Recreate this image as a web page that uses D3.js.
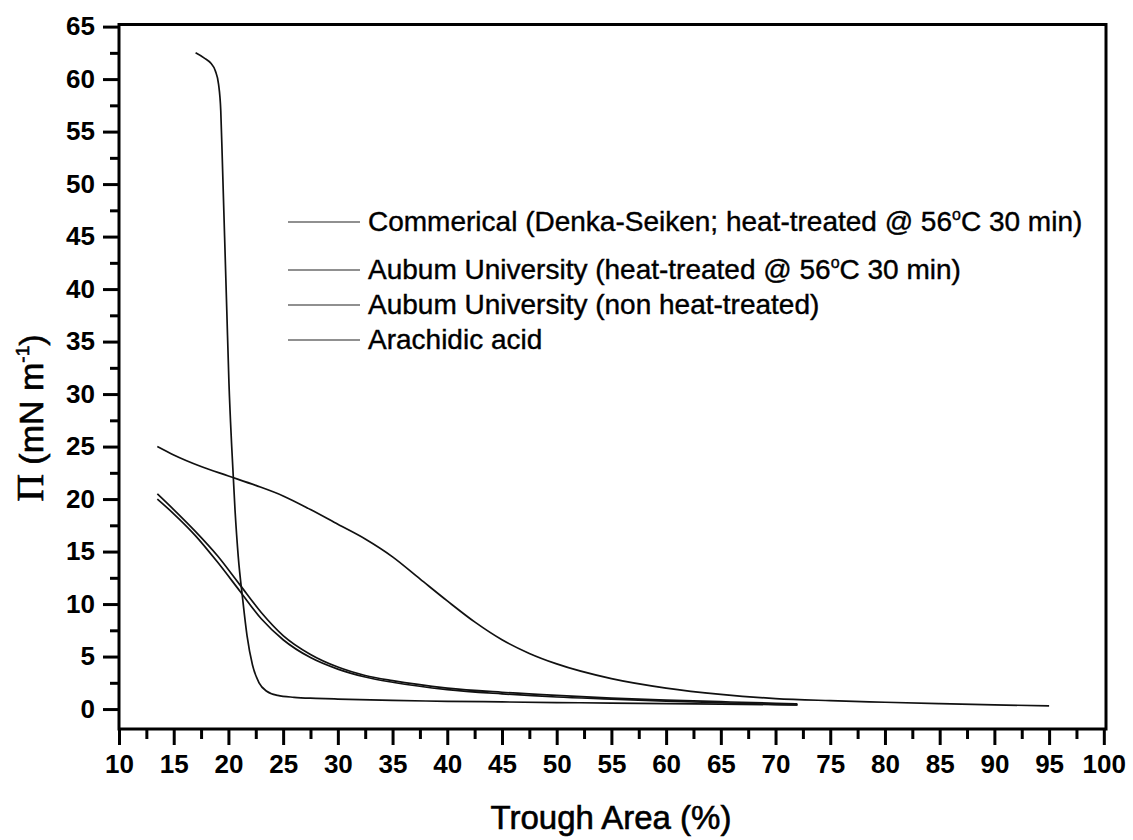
<!DOCTYPE html>
<html>
<head>
<meta charset="utf-8">
<script src="https://cdn.jsdelivr.net/npm/d3@7"></script>
<style>
  body { margin: 0; background: #fff; }
  svg { display: block; font-family: 'Liberation Sans', Arial, sans-serif; }
</style>
</head>
<body>
<div class="container"></div>
<script>
// data: [trough area %, pressure mN/m]
let commercial = [
  [17.0, 62.5], [17.8, 62.0], [18.4, 61.5], [18.8, 60.8], [19.1, 59.5], [19.3, 57], [19.45, 52],
  [19.65, 45], [19.85, 38], [20.05, 31], [20.3, 25], [20.6, 19], [20.9, 14.5],
  [21.3, 10.5], [21.7, 7], [22.2, 4.2], [22.8, 2.5], [23.5, 1.7], [24.5, 1.3],
  [26, 1.12], [28, 1.02], [30, 0.95], [35, 0.82], [40, 0.74], [45, 0.68],
  [50, 0.62], [55, 0.57], [60, 0.52], [65, 0.47], [70, 0.42], [72, 0.4]
];
let auburnHeat = [
  [13.5, 20.5], [15, 19.0], [17, 16.9], [19, 14.6], [21, 11.9], [23, 9.2],
  [25, 7.0], [27.5, 5.2], [30, 4.0], [32.5, 3.2], [35, 2.7], [40, 2.0],
  [45, 1.6], [50, 1.3], [55, 1.05], [60, 0.85], [65, 0.7], [70, 0.55], [72, 0.5]
];
let auburnNonHeat = [
  [13.5, 20.0], [15, 18.6], [17, 16.5], [19, 14.0], [21, 11.3], [23, 8.6],
  [25, 6.6], [27.5, 4.9], [30, 3.8], [32.5, 3.05], [35, 2.55], [40, 1.85],
  [45, 1.45], [50, 1.15], [55, 0.95], [60, 0.75], [65, 0.6], [70, 0.45], [72, 0.4]
];
let arachidic = [
  [13.5, 25.0], [15, 24.2], [17.5, 23.1], [20, 22.2], [22.5, 21.3], [25, 20.3],
  [27.5, 19.0], [30, 17.6], [32.5, 16.2], [35, 14.5], [37.5, 12.4], [40, 10.3],
  [42.5, 8.3], [45, 6.6], [47.5, 5.3], [50, 4.3], [55, 2.9], [60, 2.0],
  [65, 1.4], [70, 1.0], [75, 0.8], [80, 0.65], [85, 0.52], [90, 0.4], [95, 0.3]
];

let seriesNames = [
  'Commerical (Denka-Seiken; heat-treated @ 56',
  'Aubum University (heat-treated @ 56',
  'Aubum University (non heat-treated)',
  'Arachidic acid'
];
let seriesTails = ['C 30 min)', 'C 30 min)', null, null];

let xTicks = d3.range(10, 101, 5);
let yTicks = d3.range(0, 66, 5);
let xMinor = d3.range(12.5, 100, 5);
let yMinor = d3.range(2.5, 65, 5);

let width = 1133;
let height = 840;

let svg = d3
  .select('.container')
  .append('svg')
  .attr('width', width)
  .attr('height', height);

let x = d3.scaleLinear().domain([10, 100.2]).range([119, 1106]);
let y = d3.scaleLinear().domain([-1.9, 65.2]).range([729, 24.5]);

// curves
let line = d3
  .line()
  .x((d) => x(d[0]))
  .y((d) => y(d[1]))
  .curve(d3.curveMonotoneX);

[commercial, auburnHeat, auburnNonHeat, arachidic].forEach((s) => {
  svg
    .append('path')
    .attr('d', line(s))
    .attr('fill', 'none')
    .attr('stroke', '#111')
    .attr('stroke-width', 1.7);
});

// axes
let xAxis = svg
  .append('g')
  .attr('transform', 'translate(0,' + y.range()[0] + ')')
  .call(d3.axisBottom(x).tickValues(xTicks).tickSize(16).tickSizeOuter(0).tickPadding(10));
xAxis.append('g').call(d3.axisBottom(x).tickValues(xMinor).tickSize(10).tickSizeOuter(0).tickFormat(''));

let yAxis = svg
  .append('g')
  .attr('transform', 'translate(' + x.range()[0] + ',0)')
  .call(d3.axisLeft(y).tickValues(yTicks).tickSize(16).tickSizeOuter(0).tickPadding(8));
yAxis.append('g').call(d3.axisLeft(y).tickValues(yMinor).tickSize(9).tickSizeOuter(0).tickFormat(''));

svg.selectAll('.domain').remove();
svg.selectAll('.tick line').attr('stroke', '#000').attr('stroke-width', 3);
svg
  .selectAll('.tick text')
  .attr('fill', '#000')
  .style('font-size', '26px')
  .style('font-weight', 'bold')
  .style('font-family', "'Liberation Sans', Arial, sans-serif");

// frame
svg
  .append('rect')
  .attr('x', x.range()[0])
  .attr('y', y.range()[1])
  .attr('width', x.range()[1] - x.range()[0])
  .attr('height', y.range()[0] - y.range()[1])
  .attr('fill', 'none')
  .attr('stroke', '#000')
  .attr('stroke-width', 3);

// axis titles
svg
  .append('text')
  .attr('x', 611)
  .attr('y', 829)
  .attr('text-anchor', 'middle')
  .attr('stroke', '#000')
  .attr('stroke-width', 0.6)
  .style('font-size', '33px')
  .text('Trough Area (%)');

let yTitle = svg
  .append('text')
  .attr('transform', 'translate(43,418) rotate(-90)')
  .attr('text-anchor', 'middle')
  .attr('stroke', '#000')
  .attr('stroke-width', 0.6)
  .style('font-size', '34px');
yTitle.append('tspan').style('font-family', "'Liberation Serif', serif").style('font-size', '38px').text('\u03A0');
yTitle.append('tspan').text(' (mN m');
yTitle.append('tspan').attr('dy', -14).style('font-size', '19px').text('-1');
yTitle.append('tspan').attr('dy', 14).text(')');

// legend
let legendY = [222, 270, 305, 340];
let legend = svg.append('g');
seriesNames.forEach((name, i) => {
  legend
    .append('line')
    .attr('x1', 288)
    .attr('x2', 360)
    .attr('y1', legendY[i])
    .attr('y2', legendY[i])
    .attr('stroke', '#222')
    .attr('stroke-width', 1.2);
  let t = legend
    .append('text')
    .attr('x', 368)
    .attr('y', legendY[i] + 9)
    .attr('stroke', '#000')
    .attr('stroke-width', 0.4)
    .style('font-size', '28px')
    .text(name);
  if (seriesTails[i]) {
    t.append('tspan').attr('dy', -11).style('font-size', '16px').text('o');
    t.append('tspan').attr('dy', 11).text(seriesTails[i]);
  }
});
</script>
</body>
</html>
